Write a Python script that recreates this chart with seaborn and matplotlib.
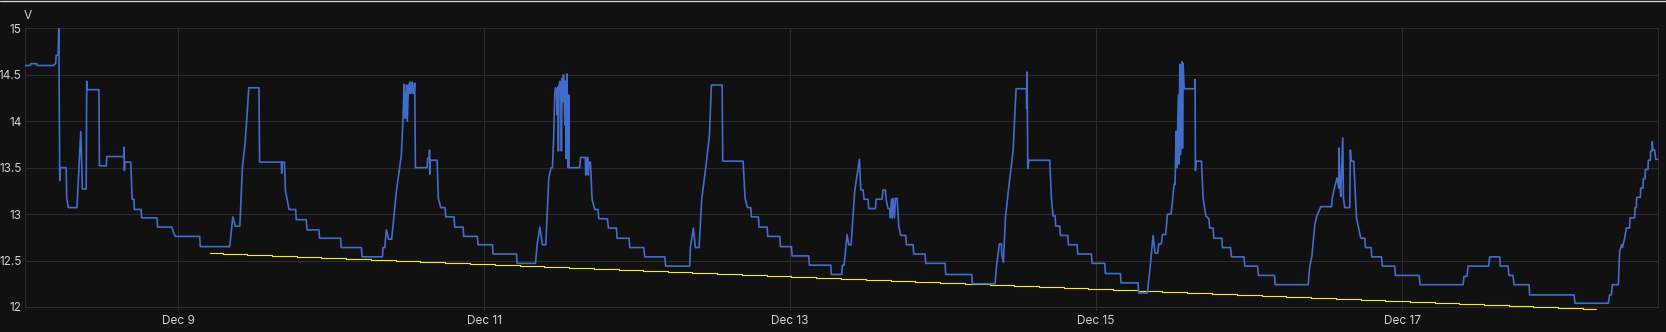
import numpy as np
import pandas as pd
import matplotlib
matplotlib.use("Agg")
import matplotlib.pyplot as plt
import matplotlib.dates as mdates
from matplotlib.lines import Line2D
import seaborn as sns

# ---- data: hours since Dec 8 00:00, volts ----
volt_hours = [
    0.00, 0.85, 0.90, 1.85, 1.90, 4.40, 4.80, 4.90, 5.20, 5.30, 5.45, 5.55, 6.45, 6.55, 6.80, 8.15,
    8.75, 9.00, 9.60, 9.68, 9.75, 11.60, 11.67, 12.76, 12.82, 15.50, 15.53, 15.59, 15.65, 16.60,
    16.80, 17.10, 17.15, 18.20, 18.30, 20.70, 20.80, 23.05, 23.30, 23.60, 27.40, 27.50, 32.10,
    32.60, 33.00, 33.70, 34.10, 34.50, 34.80, 35.10, 36.70, 36.80, 40.20, 40.27, 40.37, 40.70,
    40.85, 41.15, 41.40, 42.45, 42.55, 44.10, 44.25, 46.10, 46.20, 49.50, 49.60,
    52.76, 52.87, 56.06, 56.16, 56.43, 56.69, 57.05, 57.52, 58.26, 59.04, 59.30, 59.46, 59.56,
    59.67, 59.82, 59.98, 60.14, 60.24, 60.35, 60.50, 60.61, 60.76, 60.87, 61.02, 61.13, 61.24,
    63.07, 63.17, 63.40, 63.45, 63.50, 63.55, 64.64, 64.84, 65.21, 65.89, 66.00, 67.30, 67.40,
    68.71, 68.82, 70.96, 71.07, 73.32, 73.42, 77.09, 77.19, 80.07, 80.33, 80.75, 81.17, 81.69,
    82.16, 82.52, 82.73, 82.93, 83.09, 83.20, 83.36, 83.46, 83.57, 83.67, 83.78, 83.93, 84.04,
    84.14, 84.25, 84.35, 84.46, 84.56, 84.67, 84.77, 84.88, 84.98, 85.09, 85.19, 85.30, 85.35,
    87.02, 87.13, 87.90, 87.95, 88.05, 88.15, 88.25, 88.37, 88.45, 88.69, 88.95, 89.37, 89.89,
    90.00, 91.36, 91.51, 92.77, 92.87, 94.76, 94.86, 97.05, 97.21, 100.35, 100.50, 104.27,
    104.37, 104.84, 105.16, 105.73, 106.15, 106.78, 107.36, 107.67, 109.35, 109.45, 112.64,
    112.95, 113.32, 113.84, 113.94, 115.04, 115.15, 116.40, 116.51, 118.39, 118.50, 120.22,
    120.33, 122.94, 123.04, 126.39, 126.49, 128.11, 128.22, 128.48, 128.95, 129.21, 129.58,
    130.15, 130.89, 131.10, 131.46, 131.62, 132.25, 132.35, 133.40, 133.50, 134.44, 134.60,
    134.96, 135.07, 135.38, 135.64, 135.75, 135.91, 136.02, 136.17, 136.38, 136.53, 136.79,
    137.06, 137.37, 138.15, 138.26, 139.30, 139.41, 141.19, 141.29, 144.32, 144.43, 148.50,
    148.61, 152.16, 152.43, 152.84, 153.16, 153.21, 153.47, 153.79, 154.36, 154.99, 155.46,
    157.08, 157.13, 157.19, 157.29, 157.45, 160.74, 161.00, 161.26, 161.58, 161.68, 162.31,
    162.42, 163.57, 163.67, 165.03, 165.13, 167.28, 167.38, 169.37, 169.47, 171.82, 171.93,
    174.59, 174.70, 176.06, 176.21, 176.42, 176.95, 177.26, 177.68, 177.84, 178.25, 178.41,
    178.93, 179.20, 179.77, 179.93, 180.24, 180.40, 180.56, 180.66, 180.93, 181.03, 181.14,
    181.24, 181.35, 181.50, 181.56, 181.66, 181.82, 183.49, 183.54, 183.59, 183.70, 184.54,
    184.80, 185.22, 185.69, 185.84, 186.37, 186.47, 187.73, 187.83, 189.09, 189.25, 191.18,
    191.34, 193.33, 193.48, 195.99, 196.10, 201.27, 201.53, 201.85, 202.32, 202.63, 203.26,
    204.93, 205.08, 205.39, 205.81, 206.07, 206.12, 206.28, 206.39, 206.70, 206.81, 207.01,
    207.80, 207.90, 208.01, 208.43, 208.85, 209.53, 210.16, 210.26, 211.15, 211.25, 212.77,
    212.92, 214.86, 214.96, 218.67, 218.83, 225.57, 225.73, 226.20, 226.36, 229.60, 229.75,
    231.32, 231.42, 232.63, 232.78, 233.41, 233.57, 235.92, 236.02, 242.98, 243.13, 248.36,
    248.56, 248.83, 248.99, 249.93, 250.14, 250.45, 250.56, 250.92, 251.18, 251.71, 251.76,
    252.49, 252.54, 252.75, 252.80, 253.38, 253.43, 253.80, 253.85, 254.11, 254.16, 254.58,
    254.63, 254.95, 255.00, 255.21, 255.24, 255.37, 255.63, 255.79, 256.15,
]
volt_values = [
    14.60, 14.60, 14.62, 14.62, 14.60, 14.60, 14.62, 14.71, 14.71, 15.00, 13.36, 13.50, 13.50, 13.17, 13.07, 13.07,
    13.89, 13.27, 13.27, 14.43, 14.34, 14.34, 13.52, 13.52, 13.62, 13.62, 13.72, 13.47, 13.56, 13.56,
    13.16, 13.16, 13.05, 13.05, 12.96, 12.96, 12.86, 12.86, 12.80, 12.76, 12.76, 12.65, 12.65,
    12.97, 12.87, 12.87, 13.50, 13.75, 14.03, 14.36, 14.36, 13.56, 13.56, 13.44, 13.56, 13.56,
    13.25, 13.15, 13.05, 13.05, 12.94, 12.94, 12.83, 12.83, 12.74, 12.74, 12.64,
    12.64, 12.54, 12.54, 12.64, 12.64, 12.83, 12.73, 12.73, 13.25, 13.64, 14.03, 14.40, 14.20,
    14.03, 14.39, 14.00, 14.39, 14.30, 14.42, 14.30, 14.41, 14.42, 14.30, 14.30, 14.41, 13.50,
    13.50, 13.60, 13.60, 13.69, 13.43, 13.58, 13.58, 13.17, 13.07, 13.07, 12.97, 12.97, 12.86,
    12.86, 12.76, 12.76, 12.67, 12.67, 12.57, 12.57, 12.47, 12.47, 12.67, 12.86, 12.67, 12.67,
    13.39, 13.50, 13.50, 13.82, 14.28, 14.36, 14.34, 14.07, 14.37, 13.68, 14.39, 14.43, 14.32,
    13.68, 14.46, 14.21, 14.50, 14.39, 13.96, 14.43, 13.60, 14.51, 14.21, 13.50, 14.28, 13.50,
    13.50, 13.61, 13.61, 13.42, 13.61, 13.45, 13.61, 13.42, 13.56, 13.56, 13.16, 13.05, 13.05,
    12.95, 12.95, 12.85, 12.85, 12.74, 12.74, 12.64, 12.64, 12.54, 12.54, 12.44, 12.44,
    12.64, 12.85, 12.64, 12.64, 13.16, 13.50, 13.85, 14.39, 14.39, 13.57, 13.57,
    13.17, 13.07, 13.07, 12.97, 12.97, 12.86, 12.86, 12.76, 12.76, 12.65, 12.65,
    12.55, 12.55, 12.45, 12.45, 12.35, 12.35, 12.45, 12.45, 12.78, 12.67, 12.67,
    13.25, 13.59, 13.26, 13.26, 13.16, 13.16, 13.06, 13.06, 13.16, 13.16, 13.26,
    13.26, 13.16, 13.06, 13.06, 12.96, 13.16, 12.96, 13.17, 12.96, 13.17, 13.17,
    12.87, 12.77, 12.77, 12.67, 12.67, 12.57, 12.57, 12.47, 12.47, 12.35, 12.35,
    12.25, 12.25, 12.46, 12.68, 12.68, 12.57, 12.48, 12.96, 13.32, 13.68, 14.35,
    14.35, 14.14, 14.53, 13.49, 13.58, 13.58, 13.17, 12.98, 12.98, 12.87, 12.87,
    12.77, 12.77, 12.67, 12.67, 12.57, 12.57, 12.47, 12.47, 12.36, 12.36, 12.26,
    12.26, 12.15, 12.15, 12.26, 12.38, 12.77, 12.58, 12.58, 12.68, 12.68, 12.78,
    12.78, 13.00, 13.00, 13.10, 13.32, 13.32, 13.89, 13.50, 14.28, 13.54, 14.61,
    13.64, 14.14, 14.64, 13.71, 14.62, 14.35, 14.35, 14.45, 13.47, 13.57, 13.57,
    13.17, 12.98, 12.95, 12.85, 12.85, 12.74, 12.74, 12.64, 12.64, 12.54, 12.54,
    12.44, 12.44, 12.34, 12.34, 12.24, 12.24, 12.44, 12.54, 12.89, 12.98, 13.08,
    13.08, 13.18, 13.28, 13.39, 13.28, 13.71, 13.28, 13.19, 13.82, 13.17, 13.07,
    13.07, 13.69, 13.57, 13.57, 12.96, 12.74, 12.74, 12.64, 12.64, 12.54, 12.54,
    12.44, 12.44, 12.34, 12.34, 12.24, 12.24, 12.33, 12.33, 12.44, 12.44, 12.54,
    12.54, 12.44, 12.44, 12.34, 12.34, 12.24, 12.24, 12.13, 12.13, 12.04, 12.04,
    12.13, 12.13, 12.24, 12.24, 12.60, 12.67, 12.64, 12.74, 12.85, 12.85, 12.96,
    12.96, 13.07, 13.07, 13.18, 13.18, 13.28, 13.28, 13.38, 13.38, 13.48, 13.48,
    13.58, 13.58, 13.68, 13.68, 13.78, 13.69, 13.69, 13.59, 13.59,
]

trend_hours = [
    29.0, 31.0, 34.9, 38.8, 42.6, 46.5, 50.4, 54.3, 58.2, 62.0, 65.9, 69.8, 73.7, 77.6, 81.4,
    85.3, 89.2, 93.1, 97.0, 100.8, 104.7, 108.6, 112.5, 116.4, 120.2, 124.1, 128.0, 131.9,
    135.8, 139.6, 143.5, 147.4, 151.3, 155.2, 159.0, 162.9, 166.8, 170.7, 174.6, 178.4, 182.3,
    186.2, 190.1, 194.0, 197.8, 201.7, 205.6, 209.5, 213.4, 217.2, 221.1, 225.0, 228.9, 232.8,
    236.6, 240.5, 244.4, 246.5,
]
trend_values = [
    12.580, 12.569, 12.559, 12.548, 12.537, 12.527, 12.516, 12.505, 12.494, 12.484, 12.473,
    12.462, 12.452, 12.441, 12.430, 12.420, 12.409, 12.398, 12.387, 12.377, 12.366, 12.355,
    12.345, 12.334, 12.323, 12.313, 12.302, 12.291, 12.280, 12.270, 12.259, 12.248, 12.238,
    12.227, 12.216, 12.206, 12.195, 12.184, 12.173, 12.163, 12.152, 12.141, 12.131, 12.120,
    12.109, 12.099, 12.088, 12.077, 12.066, 12.056, 12.045, 12.034, 12.024, 12.013, 12.002,
    11.992, 11.981, 11.981,
]

y_ticks = [12, 12.5, 13, 13.5, 14, 14.5, 15]
y_tick_labels = ["12", "12.5", "13", "13.5", "14", "14.5", "15"]
x_tick_days = [9, 11, 13, 15, 17]
unit_label = "V"

# ---- styling ----
BG = "#111112"
GRID = "#2b2b2e"
TEXT = "#d0d0d4"
BLUE = "#416cc9"
YELLOW = "#ffee00"

sns.set_theme(style="dark")
plt.rcParams["font.family"] = ["Inter", "DejaVu Sans"]

base = pd.Timestamp("2023-12-08 00:00")
df_v = pd.DataFrame({"time": base + pd.to_timedelta(volt_hours, unit="h"), "volts": volt_values})
df_t = pd.DataFrame({"time": base + pd.to_timedelta(trend_hours, unit="h"), "volts": trend_values})

W, H = 1666, 332
fig = plt.figure(figsize=(W / 100, H / 100), dpi=100, facecolor=BG)
left, right, top, bottom = 25, 1658, 28, 310.7
ax = fig.add_axes([left / W, 1 - bottom / H, (right - left) / W, (bottom - top) / H])
ax.set_facecolor(BG)

sns.lineplot(data=df_t, x="time", y="volts", ax=ax, color=YELLOW, linewidth=0.8,
             drawstyle="steps-post", estimator=None, sort=False, zorder=3)
sns.lineplot(data=df_v, x="time", y="volts", ax=ax, color=BLUE, linewidth=1.2,
             estimator=None, sort=False, zorder=4)

ax.set_ylim(11.96, 15.004)
ax.set_xlim(base, base + pd.Timedelta(hours=256.15))
ax.set_yticks(y_ticks)
ax.set_yticklabels(y_tick_labels)
ax.xaxis.set_major_locator(mdates.DayLocator(bymonthday=x_tick_days))
ax.xaxis.set_major_formatter(mdates.DateFormatter("%b %-d"))

ax.grid(True, color=GRID, linewidth=0.8)
ax.tick_params(axis="both", length=0, colors=TEXT, labelsize=8.5)
ax.tick_params(axis="y", pad=2.5)
ax.tick_params(axis="x", pad=3)
ax.set_xlabel("")
ax.set_ylabel("")
for s in ["top", "bottom"]:
    ax.spines[s].set_visible(False)
for s in ["left", "right"]:
    ax.spines[s].set_color(GRID)
    ax.spines[s].set_linewidth(0.8)
    ax.spines[s].set_bounds(12, 15)

fig.text(28 / W, 1 - 16 / H, unit_label, color=TEXT, fontsize=8.5, ha="center", va="center")
fig.add_artist(Line2D([0, 1], [1 - 0.5 / H, 1 - 0.5 / H], color="#d0d0d0", linewidth=1.0,
                      transform=fig.transFigure))

fig.savefig("out.png", dpi=100, facecolor=BG)
